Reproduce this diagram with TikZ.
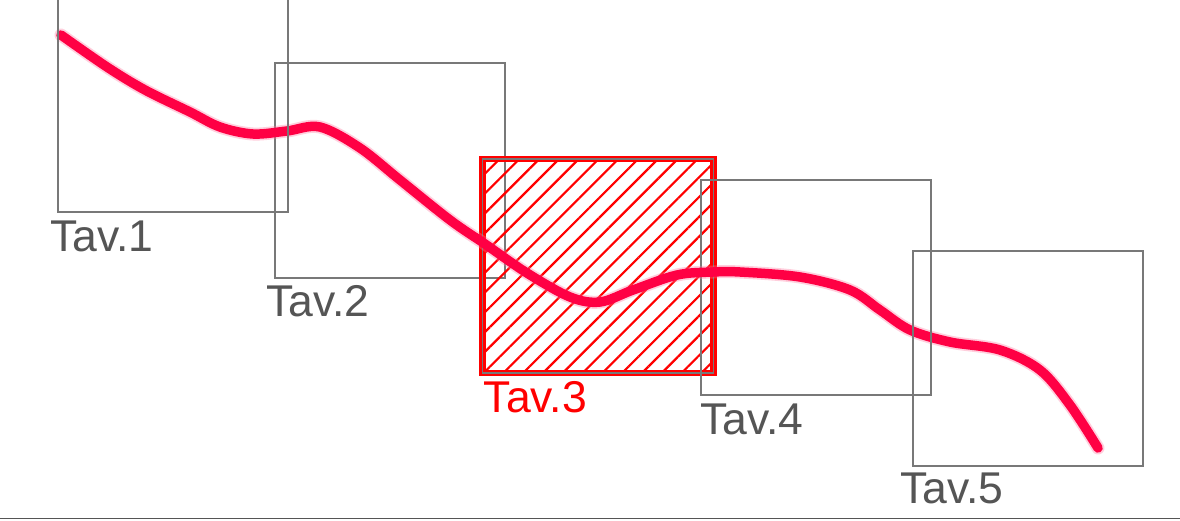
\documentclass[tikz,border=0pt]{standalone}
\usepackage{fontspec}
\setmainfont{Liberation Sans}
\usetikzlibrary{patterns.meta}
\definecolor{boxgray}{RGB}{120,120,120}
\definecolor{txtgray}{RGB}{85,85,85}
\definecolor{curvered}{RGB}{255,0,68}
\definecolor{halopink}{RGB}{255,120,160}
\begin{document}
\begin{tikzpicture}[x=1pt,y=-1pt,
  tile/.style={draw=boxgray, line width=1.6pt, inner sep=0pt, outer sep=0pt,
               minimum width=230pt, minimum height=215pt, anchor=north west},
  edge/.style={draw=boxgray, line width=1.6pt},
  lbl/.style={text=txtgray, font=\fontsize{44.5}{50}\selectfont, inner sep=0pt, anchor=base west},
  curve/.style={line width=9.5pt, draw=curvered, line cap=round, line join=round}]
\useasboundingbox (0,0) rectangle (1180,520);
\fill[white] (0,0) rectangle (1180,520);
% tiles below the track
\node[tile] (t2) at (275,63) {};
\node[draw=red, line width=6.5pt, inner sep=0pt, outer sep=0pt,
      minimum width=231pt, minimum height=214pt,
      pattern={Lines[angle=45,distance=14pt,line width=2.2pt]}, pattern color=red]
      (t3) at (598,266) {};
\draw[boxgray, line width=1.5pt] (t3.north west) rectangle (t3.south east);
\node[tile] (t4) at (701,180) {};
% track
\def\trackpts{(61,35) (107,67) (145,90) (190,112) (220,127) (253,134) (287,131) (320,127) (360,148) (400,180) (450,220) (485,244) (527,273) (570,297) (600,302) (633,290) (677,275) (713,272) (740,272) (800,277) (850,290) (880,310) (910,330) (950,342) (1000,350) (1040,370) (1070,405) (1098,448)}
\draw[line width=13pt, draw=halopink, opacity=0.35, line cap=round, line join=round]
  plot[smooth, tension=0.55] coordinates {\trackpts};
\draw[curve] plot[smooth, tension=0.55] coordinates {\trackpts};
% tiles above the track
\node[tile] (t1) at (58,-3) {};
\node[tile] (t5) at (913,251) {};
\draw[edge] (t4.north east) -- (t4.south east);
% labels
\node[lbl] (l1) at ([xshift=-8pt,yshift=-39pt]t1.south west) {Tav.1};
\node[lbl] (l2) at ([xshift=-9pt,yshift=-38pt]t2.south west) {Tav.2};
\node[lbl, text=red] (l3) at ([xshift=1pt,yshift=-39pt]t3.south west) {Tav.3};
\node[lbl] (l4) at ([xshift=-1pt,yshift=-39pt]t4.south west) {Tav.4};
\node[lbl] (l5) at ([xshift=-13pt,yshift=-37pt]t5.south west) {Tav.5};
% bottom rule
\coordinate (bl) at (0,518.5);
\coordinate (br) at (1180,518.5);
\draw[txtgray, line width=1.6pt] (bl) -- (br);
\end{tikzpicture}
\end{document}
